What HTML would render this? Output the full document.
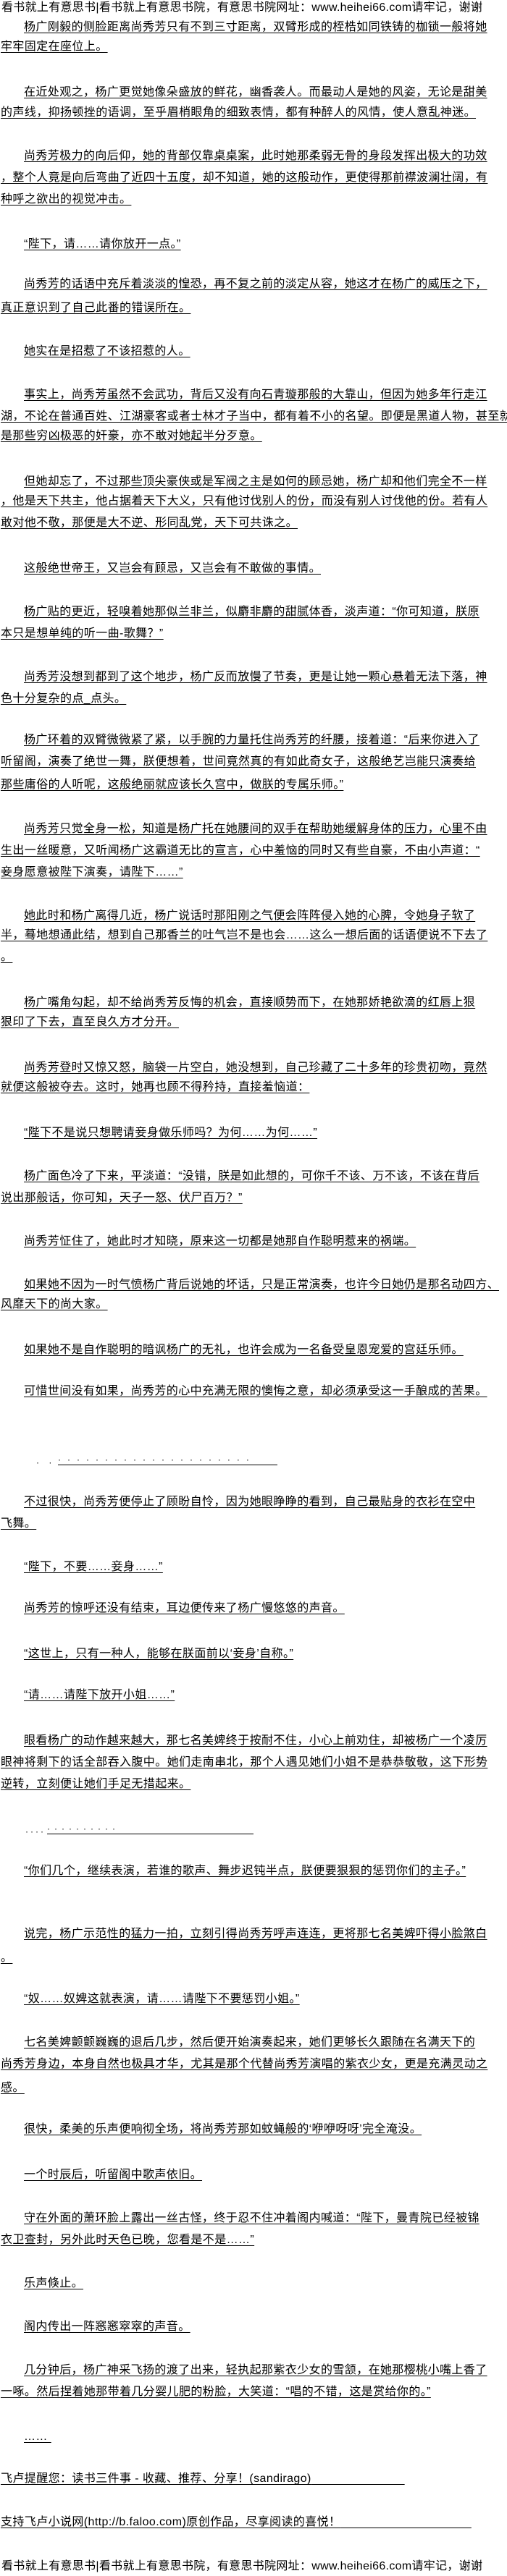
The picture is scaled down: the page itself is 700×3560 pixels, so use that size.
<!DOCTYPE html>
<html><head><meta charset="utf-8">
<style>
html,body{margin:0;padding:0;background:#fff;}
body{width:700px;height:3560px;position:relative;overflow:hidden;
font-family:"Liberation Sans","Noto Sans CJK SC","WenQuanYi Zen Hei",sans-serif;color:#000;}
.l{position:absolute;white-space:nowrap;font-size:16px;line-height:30px;height:30px;letter-spacing:0.4px;
text-decoration:underline;text-underline-offset:3px;text-decoration-thickness:1px;}
.f{left:33px}.c{left:1px}
.h{position:absolute;left:2px;white-space:nowrap;font-size:16px;line-height:20px;letter-spacing:0.3px;}
.d{position:absolute;font-size:12px;line-height:14px;white-space:nowrap;}
</style></head><body>
<div class="h" style="top:1px">看书就上有意思书|看书就上有意思书院，有意思书院网址：www.heihei66.com请牢记，谢谢</div>

<div class="l f" style="top:23px">杨广刚毅的侧脸距离尚秀芳只有不到三寸距离，双臂形成的桎梏如同铁铸的枷锁一般将她</div>
<div class="l c" style="top:50px">牢牢固定在座位上。</div>

<div class="l f" style="top:113px">在近处观之，杨广更觉她像朵盛放的鲜花，幽香袭人。而最动人是她的风姿，无论是甜美</div>
<div class="l c" style="top:141px">的声线，抑扬顿挫的语调，至乎眉梢眼角的细致表情，都有种醉人的风情，使人意乱神迷。</div>

<div class="l f" style="top:201px">尚秀芳极力的向后仰，她的背部仅靠桌桌案，此时她那柔弱无骨的身段发挥出极大的功效</div>
<div class="l c" style="top:231px">，整个人竟是向后弯曲了近四十五度，却不知道，她的这般动作，更使得那前襟波澜壮阔，有</div>
<div class="l c" style="top:261px">种呼之欲出的视觉冲击。</div>

<div class="l f" style="top:323px">“陛下，请……请你放开一点。”</div>

<div class="l f" style="top:378px">尚秀芳的话语中充斥着淡淡的惶恐，再不复之前的淡定从容，她这才在杨广的威压之下，</div>
<div class="l c" style="top:411px">真正意识到了自己此番的错误所在。</div>

<div class="l f" style="top:471px">她实在是招惹了不该招惹的人。</div>

<div class="l f" style="top:531px">事实上，尚秀芳虽然不会武功，背后又没有向石青璇那般的大靠山，但因为她多年行走江</div>
<div class="l c" style="top:561px">湖，不论在普通百姓、江湖豪客或者士林才子当中，都有着不小的名望。即便是黑道人物，甚至就</div>
<div class="l c" style="top:588px">是那些穷凶极恶的奸豪，亦不敢对她起半分歹意。</div>

<div class="l f" style="top:651px">但她却忘了，不过那些顶尖豪侠或是军阀之主是如何的顾忌她，杨广却和他们完全不一样</div>
<div class="l c" style="top:678px">，他是天下共主，他占据着天下大义，只有他讨伐别人的份，而没有别人讨伐他的份。若有人</div>
<div class="l c" style="top:708px">敢对他不敬，那便是大不逆、形同乱党，天下可共诛之。</div>

<div class="l f" style="top:771px">这般绝世帝王，又岂会有顾忌，又岂会有不敢做的事情。</div>

<div class="l f" style="top:831px">杨广贴的更近，轻嗅着她那似兰非兰，似麝非麝的甜腻体香，淡声道：“你可知道，朕原</div>
<div class="l c" style="top:861px">本只是想单纯的听一曲-歌舞？”</div>

<div class="l f" style="top:921px">尚秀芳没想到都到了这个地步，杨广反而放慢了节奏，更是让她一颗心悬着无法下落，神</div>
<div class="l c" style="top:951px">色十分复杂的点_点头。</div>

<div class="l f" style="top:1008px">杨广环着的双臂微微紧了紧，以手腕的力量托住尚秀芳的纤腰，接着道：“后来你进入了</div>
<div class="l c" style="top:1038px">听留阁，演奏了绝世一舞，朕便想着，世间竟然真的有如此奇女子，这般绝艺岂能只演奏给</div>
<div class="l c" style="top:1070px">那些庸俗的人听呢，这般绝丽就应该长久宫中，做朕的专属乐师。”</div>

<div class="l f" style="top:1131px">尚秀芳只觉全身一松，知道是杨广托在她腰间的双手在帮助她缓解身体的压力，心里不由</div>
<div class="l c" style="top:1161px">生出一丝暖意，又听闻杨广这霸道无比的宣言，心中羞恼的同时又有些自豪，不由小声道：“</div>
<div class="l c" style="top:1191px">妾身愿意被陛下演奏，请陛下……”</div>

<div class="l f" style="top:1251px">她此时和杨广离得几近，杨广说话时那阳刚之气便会阵阵侵入她的心脾，令她身子软了</div>
<div class="l c" style="top:1278px">半，蓦地想通此结，想到自己那香兰的吐气岂不是也会……这么一想后面的话语便说不下去了</div>
<div class="l c" style="top:1308px">。</div>

<div class="l f" style="top:1371px">杨广嘴角勾起，却不给尚秀芳反悔的机会，直接顺势而下，在她那娇艳欲滴的红唇上狠</div>
<div class="l c" style="top:1398px">狠印了下去，直至良久方才分开。</div>

<div class="l f" style="top:1461px">尚秀芳登时又惊又怒，脑袋一片空白，她没想到，自己珍藏了二十多年的珍贵初吻，竟然</div>
<div class="l c" style="top:1488px">就便这般被夺去。这时，她再也顾不得矜持，直接羞恼道：</div>

<div class="l f" style="top:1551px">“陛下不是说只想聘请妾身做乐师吗？为何……为何……”</div>

<div class="l f" style="top:1611px">杨广面色冷了下来，平淡道：“没错，朕是如此想的，可你千不该、万不该，不该在背后</div>
<div class="l c" style="top:1641px">说出那般话，你可知，天子一怒、伏尸百万？”</div>

<div class="l f" style="top:1701px">尚秀芳怔住了，她此时才知晓，原来这一切都是她那自作聪明惹来的祸端。</div>

<div class="l f" style="top:1761px">如果她不因为一时气愤杨广背后说她的坏话，只是正常演奏，也许今日她仍是那名动四方、</div>
<div class="l c" style="top:1788px">风靡天下的尚大家。</div>

<div class="l f" style="top:1851px">如果她不是自作聪明的暗讽杨广的无礼，也许会成为一名备受皇恩宠爱的宫廷乐师。</div>

<div class="l f" style="top:1908px">可惜世间没有如果，尚秀芳的心中充满无限的懊悔之意，却必须承受这一手酿成的苦果。</div>

<div class="d" style="top:2014px;left:50px">·&nbsp;&nbsp;&nbsp;&nbsp;·</div>
<div class="d" style="top:2010px;left:80px;width:303px;border-bottom:1px solid #000;letter-spacing:9px">·····················</div>

<div class="l f" style="top:2061px">不过很快，尚秀芳便停止了顾盼自怜，因为她眼睁睁的看到，自己最贴身的衣衫在空中</div>
<div class="l c" style="top:2091px">飞舞。</div>

<div class="l f" style="top:2151px">“陛下，不要……妾身……”</div>

<div class="l f" style="top:2208px">尚秀芳的惊呼还没有结束，耳边便传来了杨广慢悠悠的声音。</div>

<div class="l f" style="top:2271px">“这世上，只有一种人，能够在朕面前以‘妾身’自称。”</div>

<div class="l f" style="top:2328px">“请……请陛下放开小姐……”</div>

<div class="l f" style="top:2391px">眼看杨广的动作越来越大，那七名美婢终于按耐不住，小心上前劝住，却被杨广一个凌厉</div>
<div class="l c" style="top:2421px">眼神将剩下的话全部吞入腹中。她们走南串北，那个人遇见她们小姐不是恭恭敬敬，这下形势</div>
<div class="l c" style="top:2451px">逆转，立刻便让她们手足无措起来。</div>

<div class="d" style="top:2524px;left:35px;letter-spacing:3px">····</div>
<div class="d" style="top:2520px;left:65px;width:285px;border-bottom:1px solid #000;letter-spacing:6px">··········</div>

<div class="l f" style="top:2571px">“你们几个，继续表演，若谁的歌声、舞步迟钝半点，朕便要狠狠的惩罚你们的主子。”</div>

<div class="l f" style="top:2658px">说完，杨广示范性的猛力一拍，立刻引得尚秀芳呼声连连，更将那七名美婢吓得小脸煞白</div>
<div class="l c" style="top:2691px">。</div>

<div class="l f" style="top:2748px">“奴……奴婢这就表演，请……请陛下不要惩罚小姐。”</div>

<div class="l f" style="top:2808px">七名美婢颤颤巍巍的退后几步，然后便开始演奏起来，她们更够长久跟随在名满天下的</div>
<div class="l c" style="top:2838px">尚秀芳身边，本身自然也极具才华，尤其是那个代替尚秀芳演唱的紫衣少女，更是充满灵动之</div>
<div class="l c" style="top:2871px">感。</div>

<div class="l f" style="top:2928px">很快，柔美的乐声便响彻全场，将尚秀芳那如蚊蝇般的‘咿咿呀呀’完全淹没。</div>

<div class="l f" style="top:2991px">一个时辰后，听留阁中歌声依旧。</div>

<div class="l f" style="top:3051px">守在外面的萧环脸上露出一丝古怪，终于忍不住冲着阁内喊道：“陛下，曼青院已经被锦</div>
<div class="l c" style="top:3081px">衣卫查封，另外此时天色已晚，您看是不是……”</div>

<div class="l f" style="top:3141px">乐声倏止。</div>

<div class="l f" style="top:3201px">阁内传出一阵窸窸窣窣的声音。</div>

<div class="l f" style="top:3261px">几分钟后，杨广神采飞扬的渡了出来，轻执起那紫衣少女的雪颔，在她那樱桃小嘴上香了</div>
<div class="l c" style="top:3291px">一啄。然后捏着她那带着几分婴儿肥的粉脸，大笑道：“唱的不错，这是赏给你的。”</div>

<div class="l f" style="top:3353px">……&nbsp;</div>

<div class="l c" style="top:3411px;width:545px">飞卢提醒您：读书三件事 - 收藏、推荐、分享！(sandirago)<span style="letter-spacing:2px">&nbsp;&nbsp;&nbsp;&nbsp;&nbsp;&nbsp;&nbsp;&nbsp;&nbsp;&nbsp;&nbsp;&nbsp;&nbsp;&nbsp;&nbsp;&nbsp;&nbsp;&nbsp;&nbsp;&nbsp;</span></div>

<div class="l c" style="top:3471px">支持飞卢小说网(http://b.faloo.com)原创作品，尽享阅读的喜悦！<span style="letter-spacing:2px">&nbsp;&nbsp;&nbsp;&nbsp;&nbsp;&nbsp;&nbsp;&nbsp;&nbsp;&nbsp;&nbsp;&nbsp;&nbsp;&nbsp;&nbsp;&nbsp;&nbsp;&nbsp;&nbsp;&nbsp;&nbsp;&nbsp;&nbsp;&nbsp;&nbsp;&nbsp;&nbsp;&nbsp;</span></div>

<div class="h" style="top:3537px">看书就上有意思书|看书就上有意思书院，有意思书院网址：www.heihei66.com请牢记，谢谢</div>
</body></html>
